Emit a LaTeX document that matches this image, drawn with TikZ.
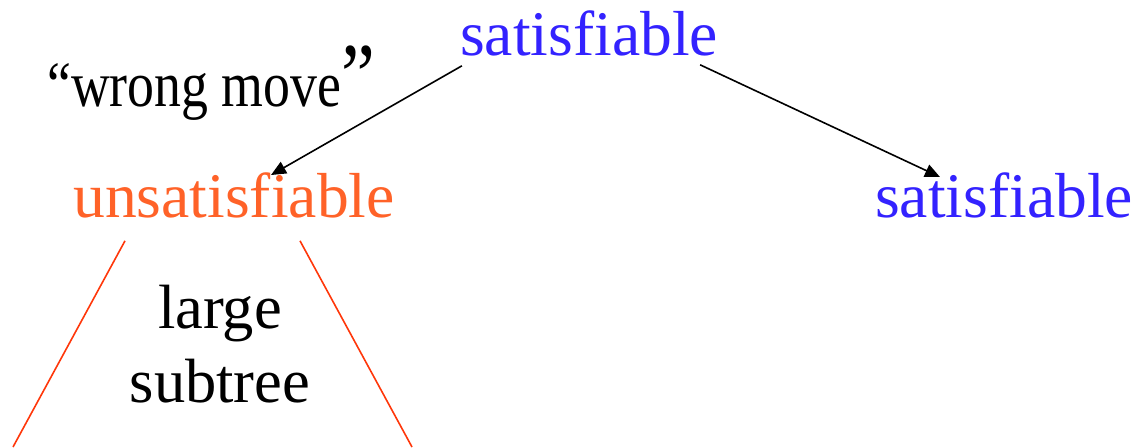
\documentclass[tikz,border=0pt]{standalone}
\usepackage{fontspec}
\setmainfont{Liberation Serif}
\usetikzlibrary{arrows.meta}
\definecolor{satblue}{RGB}{51,34,255}
\definecolor{unsatorange}{RGB}{255,98,40}
\definecolor{treered}{RGB}{255,55,10}
\tikzset{
  big/.style={inner sep=0pt, anchor=base, font=\fontsize{63.6}{74}\selectfont},
  sat/.style={big, text=satblue},
  unsat/.style={big, text=unsatorange},
  move/.style={draw=black, line width=1.6pt, -{Triangle[length=15pt,width=13pt]}},
  subtreeline/.style={draw=treered, line width=1.6pt}
}
\begin{document}
\begin{tikzpicture}[x=1pt,y=-1pt]
\useasboundingbox (0,0) rectangle (1137,447);
\node[sat] (top) at (589,55) {satisfiable};
\node[unsat] (left) at (234,217) {unsatisfiable};
\node[sat] (right) at (1004,217) {satisfiable};
\node[inner sep=0pt, anchor=base west] (wm) at (47,106)
  {\scalebox{1}[1.2]{\fontsize{53.8}{60}\selectfont “wrong move}};
\node[inner sep=0pt, anchor=north west] (q) at (341,46)
  {\scalebox{1}[1.2]{\fontsize{76}{80}\selectfont ”}};
\node[inner sep=0pt, anchor=base, align=center, font=\fontsize{62.5}{74}\selectfont] (large) at (220,402) {large\\subtree};
\draw[move] ([xshift=2pt,yshift=-10pt]top.south west) -- ([xshift=37pt,yshift=-3pt]left.north);
\draw[move] ([xshift=-18pt,yshift=-9pt]top.south east) -- ([xshift=-64pt,yshift=-5pt]right.north);
\coordinate (bl) at (13,447);
\coordinate (br) at (412,447);
\draw[subtreeline] ([xshift=-109pt,yshift=-23pt]left.south) -- (bl);
\draw[subtreeline] ([xshift=66pt,yshift=-23pt]left.south) -- (br);
\end{tikzpicture}
\end{document}
